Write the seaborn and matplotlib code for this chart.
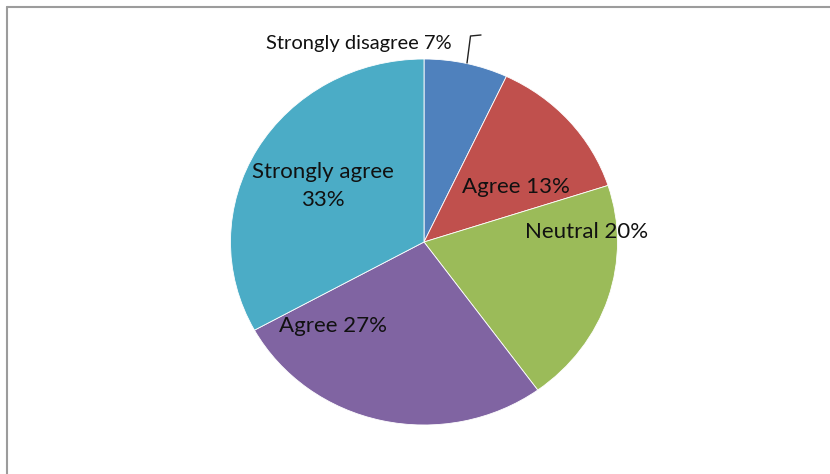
import matplotlib
matplotlib.use("Agg")
import matplotlib.pyplot as plt
from matplotlib.lines import Line2D
import seaborn as sns

categories = ["Strongly disagree", "Agree", "Neutral", "Agree", "Strongly agree"]
values = [7, 13, 20, 27, 33]
label_texts = ["Strongly disagree 7%", "Agree 13%", "Neutral 20%", "Agree 27%", "Strongly agree\n33%"]
colors = ["#4F81BD", "#C0504D", "#9BBB59", "#8064A2", "#4BACC6"]

sns.set_theme(style="white")
plt.rcParams['font.family'] = ['Lato', 'DejaVu Sans']

W, H = 830, 474
fig = plt.figure(figsize=(W / 100, H / 100), dpi=100)
fig.patch.set_facecolor("white")

# pie geometry in pixels
cx, cy, rx, ry = 424, 242, 193.5, 183
ax = fig.add_axes([(cx - rx) / W, (H - cy - ry) / H, 2 * rx / W, 2 * ry / H])
wedges, _ = ax.pie(values, colors=colors, startangle=90, counterclock=False,
                   wedgeprops=dict(edgecolor="white", linewidth=0.6))
ax.set_aspect("auto")
ax.set_xlim(-1, 1)
ax.set_ylim(-1, 1)
ax.axis("off")

def to_data(px, py):
    return (px - cx) / rx, (cy - py) / ry

label_px = [(359, 44), (516, 187), (587, 232), (333, 326), (323, 186)]
sizes = [14.5, 16, 16, 16, 16]
for txt, (px, py), fs in zip(label_texts, label_px, sizes):
    x, y = to_data(px, py)
    ax.text(x, y, txt, ha="center", va="center", fontsize=fs, color="#111111",
            linespacing=1.45, clip_on=False)

# leader line for the small slice
lx, ly = zip(*[to_data(467, 63), to_data(470.5, 36), to_data(481, 35)])
ax.plot(lx, ly, color="#222222", linewidth=1.0, clip_on=False)

# chart area border (gray)
fig.add_artist(Line2D([7 / W, 7 / W], [0, 1 - 7 / H], transform=fig.transFigure,
                      color="#9c9c9c", linewidth=1.5))
fig.add_artist(Line2D([7 / W, 1], [1 - 7 / H, 1 - 7 / H], transform=fig.transFigure,
                      color="#9c9c9c", linewidth=1.5))

fig.savefig("out.png", dpi=100, facecolor="white")
